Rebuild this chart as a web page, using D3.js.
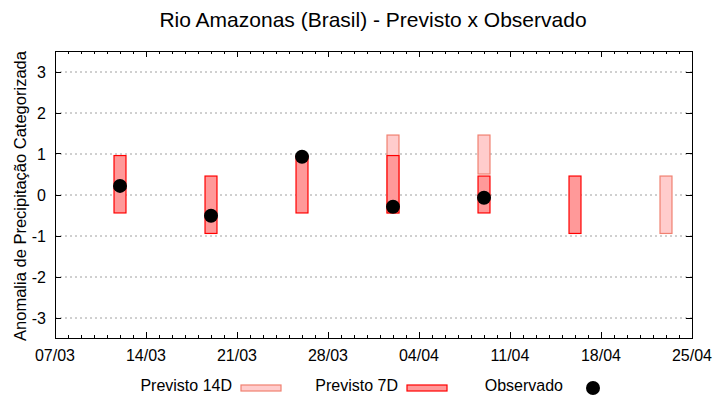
<!DOCTYPE html>
<html><head><meta charset="utf-8">
<script src="https://cdn.jsdelivr.net/npm/d3@7"></script>
<style>body{margin:0;background:#fff}svg{display:block}text{font-family:"Liberation Sans",Arial,sans-serif}</style>
</head><body><svg id="c" width="720" height="400"></svg>
<script>
const title = "Rio Amazonas (Brasil) - Previsto x Observado";
const yLabel = "Anomalia de Precipitação Categorizada";
const xTickLabels = ["07/03","14/03","21/03","28/03","04/04","11/04","18/04","25/04"];
const yTicks = [-3,-2,-1,0,1,2,3];
const dates14 = ["02/04","09/04","23/04"];
const lo14 = [-0.45, 0.5, -0.95];
const hi14 = [1.45, 1.45, 0.45];
const dates7 = ["12/03","19/03","26/03","02/04","09/04","16/04"];
const lo7 = [-0.45,-0.95,-0.45,-0.45,-0.45,-0.95];
const hi7 = [0.95,0.45,0.95,0.95,0.45,0.45];
const obsDates = ["12/03","19/03","26/03","02/04","09/04"];
const obsVals = [0.21,-0.52,0.92,-0.3,-0.08];

const parse = s => { const [d,m] = s.split("/").map(Number); return new Date(Date.UTC(2024, m-1, d)); };
const DAY = 86400000;
const svg = d3.select("#c");
const L=55, R=692, T=51, B=338;
const x = d3.scaleUtc().domain([parse(xTickLabels[0]), parse(xTickLabels[xTickLabels.length-1])]).range([L,R]);
const y = d3.scaleLinear().domain([-3.5,3.5]).range([B,T]);

// grid
svg.append("g").selectAll("line").data(yTicks).join("line")
  .attr("x1",L).attr("x2",R).attr("y1",d=>y(d)+0.5).attr("y2",d=>y(d)+0.5)
  .attr("stroke","#a0a0a0").attr("stroke-width",1).attr("stroke-dasharray","2,3");

// axes ticks
const majorDates = xTickLabels.map(parse);
const minorDates = d3.utcDay.range(majorDates[0], new Date(+majorDates[majorDates.length-1]+1));
const tk = svg.append("g").attr("stroke","#000").attr("stroke-width",1);
minorDates.forEach(d=>{
  const isMajor = majorDates.some(m=>+m===+d);
  const len = isMajor?6:3;
  const xx = Math.round(x(d))+0.5;
  tk.append("line").attr("x1",xx).attr("x2",xx).attr("y1",B).attr("y2",B-len);
  tk.append("line").attr("x1",xx).attr("x2",xx).attr("y1",T).attr("y2",T+len);
});
yTicks.forEach(v=>{
  const yy = Math.round(y(v))+0.5;
  tk.append("line").attr("x1",L).attr("x2",L+6).attr("y1",yy).attr("y2",yy);
  tk.append("line").attr("x1",R).attr("x2",R-6).attr("y1",yy).attr("y2",yy);
});

// bars
const hw = 0.46*DAY;
function bars(dates, lo, hi, fill, stroke){
  svg.append("g").selectAll("rect").data(dates.map((d,i)=>({d:parse(d),lo:lo[i],hi:hi[i]}))).join("rect")
    .attr("x",d=>x(new Date(+d.d-hw))).attr("width",d=>x(new Date(+d.d+hw))-x(new Date(+d.d-hw)))
    .attr("y",d=>y(d.hi)).attr("height",d=>y(d.lo)-y(d.hi))
    .attr("fill",fill).attr("stroke",stroke).attr("stroke-width",1.2);
}
bars(dates14, lo14, hi14, "#ffcccc", "#f08070");
bars(dates7, lo7, hi7, "#ff9999", "#ff0000");

svg.append("g").selectAll("circle").data(obsDates.map((d,i)=>({d:parse(d),v:obsVals[i]}))).join("circle")
  .attr("cx",d=>x(d.d)).attr("cy",d=>y(d.v)).attr("r",7).attr("fill","#000");

// frame
svg.append("rect").attr("x",L+0.5).attr("y",T+0.5).attr("width",R-L).attr("height",B-T)
  .attr("fill","none").attr("stroke","#000").attr("stroke-width",1);

// tick labels
svg.append("g").selectAll("text").data(majorDates).join("text")
  .attr("x",d=>x(d)).attr("y",361).attr("text-anchor","middle").attr("font-size",16).text((d,i)=>xTickLabels[i]);
svg.append("g").selectAll("text").data(yTicks).join("text")
  .attr("x",46).attr("y",d=>y(d)+6).attr("text-anchor","end").attr("font-size",16).text(d=>d);

svg.append("text").attr("transform","translate(26,196) rotate(-90)").attr("text-anchor","middle")
  .attr("font-size",16.5).text(yLabel);
svg.append("text").attr("x",373).attr("y",27).attr("text-anchor","middle").attr("font-size",21).text(title);

// legend
const lg = svg.append("g");
const legendItems = ["Previsto 14D","Previsto 7D","Observado"];
lg.append("text").attr("x",232).attr("y",391).attr("text-anchor","end").attr("font-size",16).text(legendItems[0]);
lg.append("rect").attr("x",241).attr("y",385).attr("width",40).attr("height",6).attr("fill","#ffcccc").attr("stroke","#f08070").attr("stroke-width",1.2);
lg.append("text").attr("x",398).attr("y",391).attr("text-anchor","end").attr("font-size",16).text(legendItems[1]);
lg.append("rect").attr("x",407).attr("y",385).attr("width",40).attr("height",6).attr("fill","#ff9999").attr("stroke","#ff0000").attr("stroke-width",1.2);
lg.append("text").attr("x",563).attr("y",391).attr("text-anchor","end").attr("font-size",16).text(legendItems[2]);
lg.append("circle").attr("cx",593).attr("cy",388).attr("r",7).attr("fill","#000");
</script></body></html>
